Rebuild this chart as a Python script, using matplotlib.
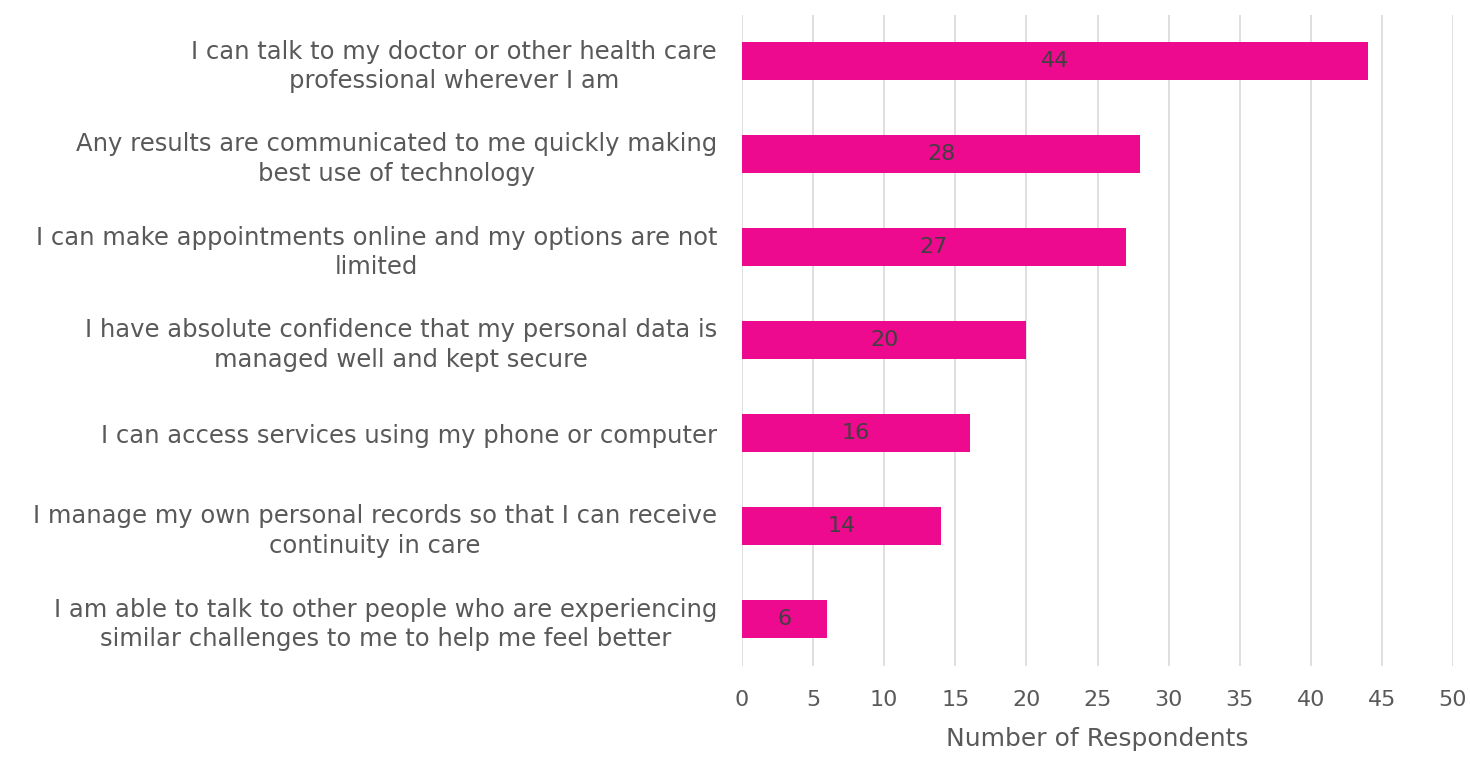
import matplotlib
matplotlib.use("Agg")
import matplotlib.pyplot as plt

categories = [
    "I can talk to my doctor or other health care\nprofessional wherever I am",
    "Any results are communicated to me quickly making\nbest use of technology",
    "I can make appointments online and my options are not\nlimited",
    "I have absolute confidence that my personal data is\nmanaged well and kept secure",
    "I can access services using my phone or computer",
    "I manage my own personal records so that I can receive\ncontinuity in care",
    "I am able to talk to other people who are experiencing\nsimilar challenges to me to help me feel better",
]
values = [44, 28, 27, 20, 16, 14, 6]
xticks = [0, 5, 10, 15, 20, 25, 30, 35, 40, 45, 50]

bar_color = "#EE0A8E"
text_color = "#595959"

fig = plt.figure(figsize=(14.7, 7.61), dpi=100)
ax = fig.add_axes([742/1470, 1-665.5/761, (1453-742)/1470, (665.5-14.5)/761])

ypos = list(range(len(categories)))
bars = ax.barh(ypos, values, height=0.4, color=bar_color, zorder=3)
ax.set_ylim(len(categories)-0.5, -0.5)
ax.set_xlim(0, 50)
ax.set_xticks(xticks)
ax.set_yticks(ypos)
ax.set_yticklabels(categories, fontsize=17.5, color=text_color, linespacing=1.3,
                   family="DejaVu Sans")
for lbl in ax.get_yticklabels():
    lbl.set_horizontalalignment("right")
    lbl.set_multialignment("center")
ax.tick_params(axis="y", length=0, pad=18)
ax.tick_params(axis="x", length=0, pad=18, labelsize=16, labelcolor=text_color)
ax.grid(axis="x", color="#D9D9D9", linewidth=1.2, zorder=0)
for s in ax.spines.values():
    s.set_visible(False)
ax.set_xlabel("Number of Respondents", fontsize=18, color=text_color, labelpad=12,
              family="DejaVu Sans")

for b, v in zip(bars, values):
    ax.text(v/2, b.get_y()+b.get_height()/2, str(v), ha="center", va="center",
            fontsize=16, color="#404040", zorder=4)

fig.savefig("out.png", dpi=100)
